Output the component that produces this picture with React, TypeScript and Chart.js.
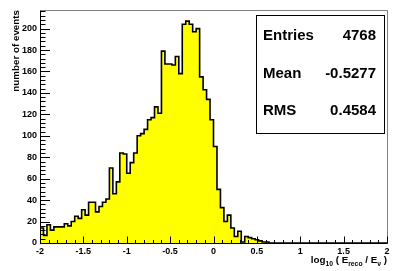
import React, { useEffect, useRef } from "react";
import { Chart, registerables } from "chart.js";

Chart.register(...registerables);

// Histogram definition: 100 bins on [-2, 2]
const BIN_LOW = -2;
const BIN_HIGH = 2;
const BIN_WIDTH = 0.04;

// Bin contents (bins -2.00 ... 1.96)
const counts = [
  5, 14, 7, 17, 12, 15, 15, 15, 18, 16, 20, 25, 23, 31,
  26, 38, 38, 29, 34, 38, 41, 70, 46, 57, 84, 83, 65, 75,
  84, 100, 102, 106, 115, 117, 127, 121,
  179, 167, 167, 166, 174, 158, 204, 207, 204, 197, 200,
  155, 143, 134, 115, 90, 50, 33, 20,
  26, 14, 6, 11, 1, 6, 5, 4, 3, 2, 1, 1,
  0, 0, 0, 0, 0, 0, 0, 0, 0, 0, 0, 0, 0, 0, 0, 0, 0,
  0, 0, 0, 0, 0, 0, 0, 0, 0, 0, 0, 0, 0, 0, 0, 0,
];

const xMajorTicks = [-2, -1.5, -1, -0.5, 0, 0.5, 1, 1.5, 2];
const xTickLabels = ["-2", "-1.5", "-1", "-0.5", "0", "0.5", "1", "1.5", "2"];
const yMajorTicks = [0, 20, 40, 60, 80, 100, 120, 140, 160, 180, 200];
const yTickLabels = ["0", "20", "40", "60", "80", "100", "120", "140", "160", "180", "200"];
const Y_MAX = 217.35;

const statsLabels = ["Entries", "Mean", "RMS"];
const statsValues = ["4768", "-0.5277", "0.4584"];

const yTitle = "number of events";

const FONT = '"Liberation Sans", Arial, Helvetica, sans-serif';

const rootPlugin = {
  id: "rootStyle",
  afterDatasetsDraw(chart: any) {
    const { ctx, chartArea, scales } = chart;
    const xs = scales.x;
    const ys = scales.y;
    const { left, right, top, bottom } = chartArea;
    const L = Math.round(left) + 0.5;
    const R = Math.round(right) + 0.5;
    const T = Math.round(top) + 0.5;
    const B = Math.round(bottom) + 0.5;
    ctx.save();

    // frame (top & right, gray)
    ctx.strokeStyle = "#808080";
    ctx.lineWidth = 1;
    ctx.beginPath();
    ctx.moveTo(L, T);
    ctx.lineTo(R, T);
    ctx.lineTo(R, B);
    ctx.stroke();

    // axes
    ctx.strokeStyle = "#000";
    ctx.beginPath();
    ctx.moveTo(L, T);
    ctx.lineTo(L, B);
    ctx.lineTo(R, B);
    ctx.stroke();

    // x ticks (inside)
    ctx.beginPath();
    for (let k = 0; k <= 40; k++) {
      const v = BIN_LOW + k * 0.1;
      const px = Math.round(xs.getPixelForValue(v)) + 0.5;
      const len = k % 5 === 0 ? 7 : 3.5;
      ctx.moveTo(px, B);
      ctx.lineTo(px, B - len);
    }
    // y ticks (inside)
    for (let k = 0; k * 4 <= Y_MAX; k++) {
      const v = k * 4;
      const py = Math.round(ys.getPixelForValue(v)) + 0.5;
      const len = k % 5 === 0 ? 9.5 : 5;
      ctx.moveTo(L, py);
      ctx.lineTo(L + len, py);
    }
    ctx.stroke();

    // tick labels
    ctx.fillStyle = "#000";
    ctx.font = `bold 9px ${FONT}`;
    ctx.textAlign = "center";
    ctx.textBaseline = "alphabetic";
    xMajorTicks.forEach((v, i) => {
      ctx.fillText(xTickLabels[i], xs.getPixelForValue(v), 254);
    });
    ctx.textAlign = "right";
    ctx.textBaseline = "middle";
    yMajorTicks.forEach((v, i) => {
      ctx.fillText(yTickLabels[i], left - 3, ys.getPixelForValue(v));
    });

    // y title (rotated, aligned to top)
    ctx.save();
    ctx.translate(19, top);
    ctx.rotate(-Math.PI / 2);
    ctx.font = `bold 9.8px ${FONT}`;
    ctx.textAlign = "right";
    ctx.textBaseline = "alphabetic";
    ctx.fillText(yTitle, 0, 0);
    ctx.restore();

    // x title: log10 ( Ereco / Eν ), right aligned to axis end
    const big = `bold 9.8px ${FONT}`;
    const small = `bold 6.8px ${FONT}`;
    const parts: [string, boolean][] = [
      ["log", false],
      ["10", true],
      [" ( E", false],
      ["reco", true],
      [" / E", false],
      ["\u03bd", true],
      [" )", false],
    ];
    let total = 0;
    parts.forEach(([s, sub]) => {
      ctx.font = sub ? small : big;
      total += ctx.measureText(s).width;
    });
    let cx = right - total;
    const baseY = 263;
    ctx.textAlign = "left";
    ctx.textBaseline = "alphabetic";
    parts.forEach(([s, sub]) => {
      ctx.font = sub ? small : big;
      ctx.fillText(s, cx, sub ? baseY + 2.5 : baseY);
      cx += ctx.measureText(s).width;
    });

    // stats box
    const bx = 256.5, by = 15.5, bw = 128, bh = 118;
    ctx.fillStyle = "#fff";
    ctx.fillRect(bx, by, bw, bh);
    ctx.strokeStyle = "#000";
    ctx.strokeRect(bx, by, bw, bh);
    ctx.fillStyle = "#000";
    ctx.font = `bold 15px ${FONT}`;
    const rows = [40, 78, 115];
    statsLabels.forEach((lab, i) => {
      ctx.textAlign = "left";
      ctx.fillText(lab, 263, rows[i]);
      ctx.textAlign = "right";
      ctx.fillText(statsValues[i], 376, rows[i]);
    });

    ctx.restore();
  },
};

export default function App() {
  const canvasRef = useRef<HTMLCanvasElement | null>(null);

  useEffect(() => {
    const canvas = canvasRef.current;
    if (!canvas) return;
    const points: { x: number; y: number }[] = [{ x: BIN_LOW, y: 0 }];
    counts.forEach((c, i) => points.push({ x: BIN_LOW + i * BIN_WIDTH, y: c }));
    points.push({ x: BIN_HIGH, y: 0 });

    const chart = new Chart(canvas, {
      type: "line",
      data: {
        datasets: [
          {
            data: points,
            stepped: "after",
            fill: "origin",
            backgroundColor: "#ffff00",
            borderColor: "#000",
            borderWidth: 1.6,
            pointRadius: 0,
            tension: 0,
          },
        ],
      },
      options: {
        animation: false,
        responsive: false,
        maintainAspectRatio: false,
        events: [],
        layout: { padding: { left: 40, right: 16, top: 10, bottom: 28 } },
        plugins: {
          legend: { display: false },
          tooltip: { enabled: false },
          title: { display: false },
        },
        scales: {
          x: { type: "linear", min: BIN_LOW, max: BIN_HIGH, display: false },
          y: { type: "linear", min: 0, max: Y_MAX, display: false },
        },
      },
      plugins: [rootPlugin],
    });
    return () => chart.destroy();
  }, []);

  return (
    <div style={{ position: "fixed", left: 0, top: 0, width: 403, height: 271, background: "#fff" }}>
      <canvas ref={canvasRef} width={403} height={271} style={{ width: 403, height: 271, display: "block" }} />
    </div>
  );
}
